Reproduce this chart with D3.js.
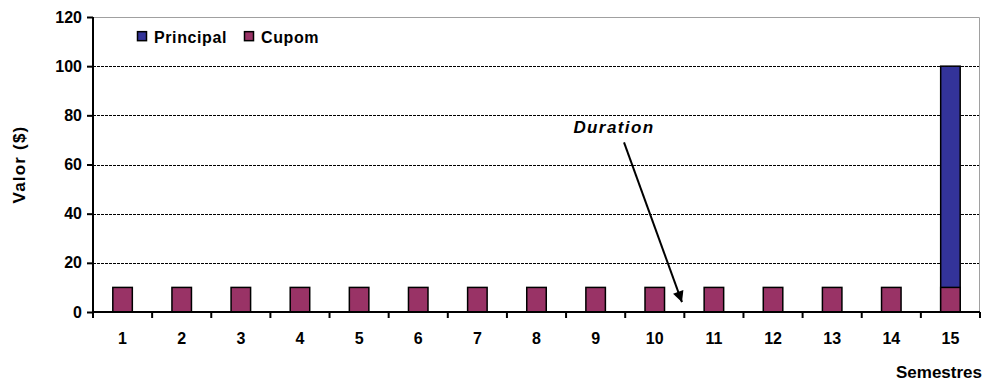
<!DOCTYPE html>
<html>
<head>
<meta charset="utf-8">
<script src="https://d3js.org/d3.v7.min.js"></script>
<style>
body {
  margin: 0;
  background: white;
  font-family: "Liberation Sans", Arial, Helvetica, sans-serif;
}
text {
  font-weight: bold;
  fill: black;
}
</style>
<title>Fluxo de caixa</title>
</head>
<body>
<div id="chart"></div>
<script>
// data
const semestres = [1, 2, 3, 4, 5, 6, 7, 8, 9, 10, 11, 12, 13, 14, 15];
const cupom     = [10, 10, 10, 10, 10, 10, 10, 10, 10, 10, 10, 10, 10, 10, 10];
const principal = [0, 0, 0, 0, 0, 0, 0, 0, 0, 0, 0, 0, 0, 0, 100];
const yTicks = [0, 20, 40, 60, 80, 100, 120];
const seriesNames = ["Principal", "Cupom"];
const seriesColors = ["#333399", "#993366"];
// duration annotation (semester units / value units)
const durationSemestre = 10.46;
const durationLabel = "Duration";

const width = 984;
const height = 381;
const marginTop = 17;
const marginRight = 4;
const marginBottom = 69;
const marginLeft = 93;

const x = d3.scaleBand()
  .domain(semestres)
  .range([marginLeft, width - marginRight])
  .padding(0);

// continuous semester scale for the annotation
const xs = d3.scaleLinear()
  .domain([0.5, semestres.length + 0.5])
  .range([marginLeft, width - marginRight]);

const y = d3.scaleLinear()
  .domain([0, 120])
  .range([height - marginBottom, marginTop]);

const svg = d3.select("#chart").append("svg")
  .attr("width", width)
  .attr("height", height)
  .attr("viewBox", [0, 0, width, height]);

svg.append("defs").append("marker")
  .attr("id", "head")
  .attr("viewBox", "0 0 10 10")
  .attr("refX", 10)
  .attr("refY", 5)
  .attr("markerWidth", 6.5)
  .attr("markerHeight", 5.5)
  .attr("markerUnits", "strokeWidth")
  .attr("orient", "auto")
  .append("path")
    .attr("d", "M0,0L10,5L0,10Z")
    .attr("fill", "black");

// gridlines
svg.append("g")
  .selectAll("line")
  .data(yTicks.filter(d => d > 0 && d < 120))
  .join("line")
    .attr("x1", marginLeft)
    .attr("x2", width - marginRight)
    .attr("y1", d => Math.round(y(d)) + 0.5)
    .attr("y2", d => Math.round(y(d)) + 0.5)
    .attr("stroke", "black")
    .attr("stroke-width", 1)
    .attr("stroke-dasharray", "3,1");

// top and right frame
svg.append("path")
  .attr("d", `M${marginLeft},${y(120) + 0.5}H${width - marginRight - 0.5}V${y(0)}`)
  .attr("fill", "none")
  .attr("stroke", "#a0a0a0")
  .attr("stroke-width", 1);

const bw = x.bandwidth() * 0.33;

// principal bars behind coupon bars
svg.append("g")
  .selectAll("rect")
  .data(semestres.map((s, i) => ({ s, v: principal[i] })).filter(d => d.v > 0))
  .join("rect")
    .attr("x", d => x(d.s) + (x.bandwidth() - bw) / 2)
    .attr("width", bw)
    .attr("y", d => y(d.v))
    .attr("height", d => y(0) - y(d.v))
    .attr("fill", seriesColors[0])
    .attr("stroke", "black")
    .attr("stroke-width", 1.5);

svg.append("g")
  .selectAll("rect")
  .data(semestres.map((s, i) => ({ s, v: cupom[i] })))
  .join("rect")
    .attr("x", d => x(d.s) + (x.bandwidth() - bw) / 2)
    .attr("width", bw)
    .attr("y", d => y(d.v))
    .attr("height", d => y(0) - y(d.v))
    .attr("fill", seriesColors[1])
    .attr("stroke", "black")
    .attr("stroke-width", 1.5);

// x axis: ticks at category boundaries
const xAxis = svg.append("g")
  .attr("transform", `translate(0,${y(0)})`);
xAxis.append("line")
  .attr("x1", marginLeft)
  .attr("x2", width - marginRight)
  .attr("stroke", "black")
  .attr("stroke-width", 2);
xAxis.selectAll(".tk")
  .data(semestres.concat([semestres.length + 1]))
  .join("line")
    .attr("class", "tk")
    .attr("x1", d => xs(d - 0.5))
    .attr("x2", d => xs(d - 0.5))
    .attr("y1", 0)
    .attr("y2", 6)
    .attr("stroke", "black")
    .attr("stroke-width", 2);
xAxis.selectAll(".lb")
  .data(semestres)
  .join("text")
    .attr("class", "lb")
    .attr("x", d => x(d) + x.bandwidth() / 2)
    .attr("y", 32)
    .attr("text-anchor", "middle")
    .attr("font-size", 16)
    .text(d => d);

// y axis
svg.append("g")
  .attr("transform", `translate(${marginLeft},0)`)
  .call(d3.axisLeft(y).tickValues(yTicks).tickSize(6).tickPadding(5))
  .call(g => g.selectAll("path, line").attr("stroke", "black").attr("stroke-width", 2))
  .call(g => g.select(".domain").attr("d", `M0,${y(120)}V${y(0)}`))
  .call(g => g.selectAll("text")
    .attr("font-size", 16)
    .attr("font-family", "Liberation Sans, Arial, sans-serif")
    .attr("font-weight", "bold")
    .attr("fill", "black"));

// axis titles
svg.append("text")
  .attr("transform", `translate(25,${(y(0) + y(120)) / 2}) rotate(-90)`)
  .attr("text-anchor", "middle")
  .attr("font-size", 17)
  .attr("letter-spacing", 1.2)
  .text("Valor ($)");

svg.append("text")
  .attr("x", width - 2)
  .attr("y", height - 3)
  .attr("text-anchor", "end")
  .attr("font-size", 17)
  .text("Semestres");

// legend
const legend = svg.append("g")
  .attr("transform", `translate(${marginLeft + 44},${y(112)})`);
const item = legend.selectAll("g")
  .data(seriesNames)
  .join("g")
    .attr("transform", (d, i) => `translate(${i * 107},0)`);
item.append("rect")
  .attr("x", 0.5)
  .attr("y", -5)
  .attr("width", 9)
  .attr("height", 9)
  .attr("fill", (d, i) => seriesColors[i])
  .attr("stroke", "black")
  .attr("stroke-width", 1.5);
item.append("text")
  .attr("x", 17)
  .attr("y", 6)
  .attr("font-size", 16)
  .attr("letter-spacing", 0.6)
  .text(d => d);

// duration annotation
svg.append("text")
  .attr("x", xs(durationSemestre - 1.15))
  .attr("y", y(73))
  .attr("text-anchor", "middle")
  .attr("font-size", 17)
  .attr("font-style", "italic")
  .attr("letter-spacing", 1.4)
  .text(durationLabel);

svg.append("line")
  .attr("x1", xs(durationSemestre - 0.98))
  .attr("y1", y(69))
  .attr("x2", xs(durationSemestre))
  .attr("y2", y(4))
  .attr("stroke", "black")
  .attr("stroke-width", 2)
  .attr("marker-end", "url(#head)");
</script>
</body>
</html>
